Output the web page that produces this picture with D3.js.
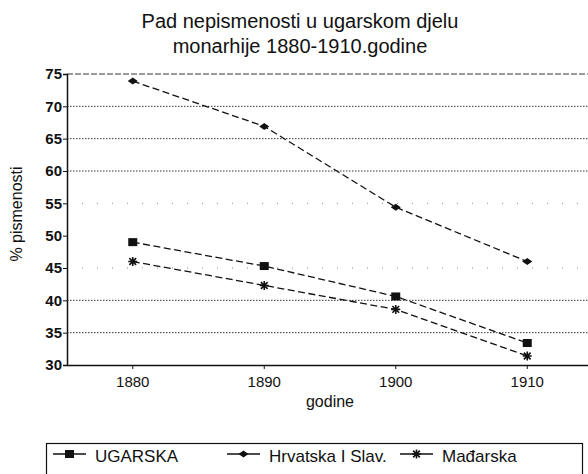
<!DOCTYPE html>
<html><head><meta charset="utf-8">
<script src="https://cdn.jsdelivr.net/npm/d3@7"></script>
<style>body{margin:0;background:#fff}svg{display:block}</style>
</head><body>
<svg id="c" width="588" height="474"></svg>
<script>
const years = ["1880", "1890", "1900", "1910"];
const ugarska = [49.0, 45.3, 40.6, 33.4];
const hrvatska = [73.9, 66.9, 54.4, 46.0];
const madarska = [46.0, 42.3, 38.6, 31.4];
const yTicks = [30, 35, 40, 45, 50, 55, 60, 65, 70, 75];
const seriesNames = ["UGARSKA", "Hrvatska I Slav.", "Mađarska"];
const titleLines = ["Pad nepismenosti u ugarskom djelu", "monarhije 1880-1910.godine"];

const svg = d3.select("#c");
const font = "'Liberation Sans', Arial, sans-serif";
const L = 67, R = 593, T = 74, B = 365;
const x = d3.scaleBand().domain(years).range([L, R]);
const y = d3.scaleLinear().domain([30, 75]).range([B, T]);

// title
svg.append("g").selectAll("text").data(titleLines).join("text")
  .attr("x", 300).attr("y", (d, i) => 28 + i * 25)
  .attr("text-anchor", "middle").attr("font-family", font).attr("font-size", 20)
  .attr("fill", "#111").text(d => d);

// gridlines
const faint = new Set([45, 50, 55]);
svg.append("g").selectAll("line").data(yTicks.filter(t => t > 30)).join("line")
  .attr("x1", L).attr("x2", R).attr("y1", d => y(d)).attr("y2", d => y(d))
  .attr("stroke", "#222").attr("stroke-width", 1)
  .attr("stroke-dasharray", d => d === 75 ? "6,2" : faint.has(d) ? "1,14" : "1.5,1.5")
  .attr("opacity", d => d === 50 ? 0 : faint.has(d) ? 0.5 : 0.9);

// y axis
const yAxis = svg.append("g").attr("transform", `translate(${L},0)`)
  .call(d3.axisLeft(y).tickValues(yTicks).tickSize(4).tickFormat(d3.format("d")));
yAxis.select(".domain").attr("stroke", "#111").attr("stroke-width", 1.5);
yAxis.selectAll(".tick line").attr("stroke", "#111");
yAxis.selectAll("text").attr("font-family", font).attr("font-size", 15)
  .attr("font-weight", "bold").attr("fill", "#111").attr("dx", "2px");

// x axis
const xAxis = svg.append("g").attr("transform", `translate(0,${B})`)
  .call(d3.axisBottom(x).tickSize(4).tickSizeOuter(0));
xAxis.select(".domain").attr("stroke", "#111").attr("stroke-width", 1.5);
xAxis.selectAll(".tick line").attr("stroke", "#111");
xAxis.selectAll("text").attr("font-family", font).attr("font-size", 15)
  .attr("fill", "#111").attr("y", 22).attr("dy", 0);

// axis titles
svg.append("text").attr("transform", "translate(22,214) rotate(-90)")
  .attr("text-anchor", "middle").attr("font-family", font).attr("font-size", 16)
  .attr("fill", "#111").text("% pismenosti");
svg.append("text").attr("x", 330).attr("y", 407).attr("text-anchor", "middle")
  .attr("font-family", font).attr("font-size", 16).attr("fill", "#111").text("godine");

// series
const cx = d => x(d) + x.bandwidth() / 2;
const series = [
  {name: seriesNames[0], values: ugarska, sym: "square"},
  {name: seriesNames[1], values: hrvatska, sym: "diamond"},
  {name: seriesNames[2], values: madarska, sym: "star"}
];
const line = d3.line().x((d, i) => cx(years[i])).y(d => y(d));

function drawMarker(g, sym, px, py) {
  if (sym === "square") {
    g.append("rect").attr("x", px - 4.5).attr("y", py - 4).attr("width", 9).attr("height", 8).attr("fill", "#111");
  } else if (sym === "diamond") {
    g.append("path").attr("d", `M${px-5},${py} L${px},${py-3.5} L${px+5},${py} L${px},${py+3.5}Z`).attr("fill", "#111");
  } else {
    const s = 4.5;
    g.append("path").attr("d",
      `M${px-s},${py} L${px+s},${py} M${px},${py-s} L${px},${py+s} M${px-s*0.75},${py-s*0.75} L${px+s*0.75},${py+s*0.75} M${px-s*0.75},${py+s*0.75} L${px+s*0.75},${py-s*0.75}`)
      .attr("stroke", "#111").attr("stroke-width", 1.6);
  }
}

series.forEach(s => {
  svg.append("path").datum(s.values).attr("d", line)
    .attr("fill", "none").attr("stroke", "#111").attr("stroke-width", 1.3)
    .attr("stroke-dasharray", "7,3.5");
  const g = svg.append("g");
  s.values.forEach((v, i) => drawMarker(g, s.sym, cx(years[i]), y(v)));
});

// legend
const lg = svg.append("g");
lg.append("rect").attr("x", 46.5).attr("y", 443.5).attr("width", 536).attr("height", 45)
  .attr("fill", "none").attr("stroke", "#111").attr("stroke-width", 1.2);
const legX = [53, 227, 400];
series.forEach((s, i) => {
  const lx = legX[i], ly = 454;
  lg.append("line").attr("x1", lx).attr("x2", lx + 33).attr("y1", ly).attr("y2", ly)
    .attr("stroke", "#111").attr("stroke-width", 1.3);
  drawMarker(lg, s.sym, lx + 16.5, ly);
  lg.append("text").attr("x", lx + 42).attr("y", 462).attr("font-family", font)
    .attr("font-size", 17).attr("fill", "#111").text(s.name);
});
</script>
</body></html>
